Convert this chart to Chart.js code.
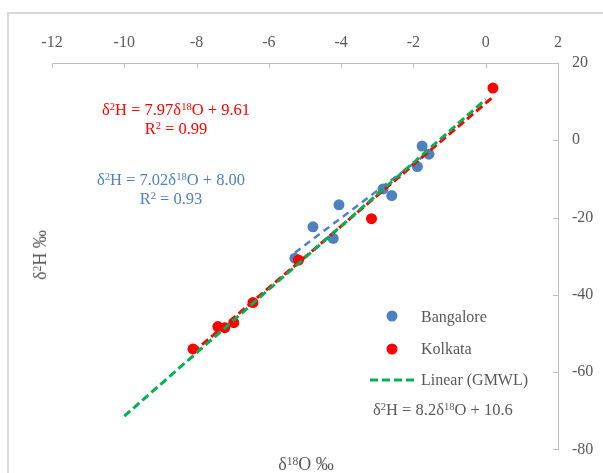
<!DOCTYPE html>
<html>
<head>
<meta charset="utf-8">
<script src="https://cdn.jsdelivr.net/npm/chart.js@4/dist/chart.umd.min.js"></script>
<style>
  html, body { margin: 0; padding: 0; background: #fff; }
  #wrap { position: relative; width: 603px; height: 473px; overflow: hidden; background: #fff; }
  #frame { position: absolute; left: 7px; top: 12px; width: 700px; height: 600px; border: 2px solid #d9d9d9; box-sizing: border-box; }
  canvas { position: absolute; left: 0; top: 0; }
  .t { position: absolute; font-family: "Liberation Serif", "Times New Roman", serif; font-size: 16px; line-height: 1; white-space: nowrap; color: #595959; }
  .eq { font-size: 16.5px; }
  .ti { font-size: 18px; }
  .c { transform: translate(-50%, -50%); }
  .l { transform: translateY(-50%); }
  .s { font-size: 0.64em; position: relative; top: -0.45em; }
  .red { color: #ff0000; }
  .blue { color: #4f81bd; }
</style>
</head>
<body>
<div id="wrap">
  <div id="frame"></div>
  <canvas id="c" width="603" height="473"></canvas>
  <div class="t eq c red" style="left:176px; top:110px;">δ<span class="s">2</span>H = 7.97δ<span class="s">18</span>O + 9.61</div>
  <div class="t eq c red" style="left:176px; top:129px;">R<span class="s">2</span> = 0.99</div>
  <div class="t eq c blue" style="left:171px; top:180px;">δ<span class="s">2</span>H = 7.02δ<span class="s">18</span>O + 8.00</div>
  <div class="t eq c blue" style="left:171px; top:199px;">R<span class="s">2</span> = 0.93</div>
  <div class="t l" style="left:421px; top:317px;">Bangalore</div>
  <div class="t l" style="left:421px; top:349px;">Kolkata</div>
  <div class="t l" style="left:421px; top:380px;">Linear (GMWL)</div>
  <div class="t eq l" style="left:373px; top:410px;">δ<span class="s">2</span>H = 8.2δ<span class="s">18</span>O + 10.6</div>
  <div class="t ti c" style="left:306px; top:464px;">δ<span class="s">18</span>O ‰</div>
  <div class="t ti c" style="left:40px; top:255px; transform: translate(-50%, -50%) rotate(-90deg);">δ<span class="s">2</span>H ‰</div>
</div>
<script>
// ---- data ----
const bangaloreX = [-1.76, -1.57, -1.89, -2.84, -2.60, -4.06, -4.78, -4.22, -5.28];
const bangaloreY = [-1.5, -3.6, -6.8, -12.6, -14.3, -16.7, -22.4, -25.4, -30.5];
const kolkataX = [0.20, -3.16, -5.18, -6.44, -6.97, -7.22, -7.41, -8.10];
const kolkataY = [13.5, -20.3, -31.0, -42.0, -47.2, -48.5, -48.2, -54.0];
// trendline end points as seen in the picture
const bangaloreFitX = [-5.28, -1.57];
const bangaloreFitY = [-29.1, -3.0];
const kolkataFitX = [-8.10, 0.20];
const kolkataFitY = [-54.9, 11.2];
const gmwlX = [-10, 0];
const gmwlY = [-71.4, 10.6];
// axis ticks
const xTicks = [-12, -10, -8, -6, -4, -2, 0, 2];
const yTicks = [20, 0, -20, -40, -60, -80];

const pts = (xs, ys) => xs.map((x, i) => ({ x: x, y: ys[i] }));

const BLUE = '#4f81bd', RED = '#ff0000', GREEN = '#00b050', AXIS = '#bfbfbf', TXT = '#595959';
const FONT = { family: '"Liberation Serif", "Times New Roman", serif', size: 16 };

const innerTicks = {
  id: 'innerTicks',
  afterDraw(chart) {
    const { ctx, chartArea: a, scales } = chart;
    ctx.save();
    ctx.strokeStyle = AXIS;
    ctx.lineWidth = 1;
    ctx.beginPath();
    xTicks.forEach(v => {
      const px = Math.round(scales.x.getPixelForValue(v)) + 0.5;
      ctx.moveTo(px, a.top); ctx.lineTo(px, a.top + 5);
    });
    yTicks.forEach(v => {
      const py = Math.round(scales.y.getPixelForValue(v)) + 0.5;
      ctx.moveTo(a.right, py); ctx.lineTo(a.right - 5, py);
    });
    ctx.stroke();
    // legend markers
    const ds = chart.data.datasets;
    const drawDot = (d, cx, cy) => {
      ctx.beginPath(); ctx.arc(cx, cy, d.pointRadius, 0, Math.PI * 2);
      ctx.fillStyle = d.backgroundColor; ctx.fill();
    };
    drawDot(ds[3], 392, 316);
    drawDot(ds[4], 392, 349);
    ctx.beginPath();
    ctx.setLineDash(ds[0].borderDash);
    ctx.strokeStyle = ds[0].borderColor; ctx.lineWidth = ds[0].borderWidth;
    ctx.moveTo(370, 380); ctx.lineTo(414, 380); ctx.stroke();
    ctx.restore();
  }
};

new Chart(document.getElementById('c'), {
  type: 'scatter',
  data: {
    datasets: [
      { label: 'Linear (GMWL)', data: pts(gmwlX, gmwlY), showLine: true, borderColor: GREEN, borderWidth: 3, borderDash: [8, 4], pointRadius: 0, fill: false, order: 0 },
      { label: 'Kolkata fit', data: pts(kolkataFitX, kolkataFitY), showLine: true, borderColor: RED, borderWidth: 3, borderDash: [8, 4], pointRadius: 0, fill: false, order: 1 },
      { label: 'Bangalore fit', data: pts(bangaloreFitX, bangaloreFitY), showLine: true, borderColor: BLUE, borderWidth: 2.5, borderDash: [7, 5], pointRadius: 0, fill: false, order: 2 },
      { label: 'Bangalore', data: pts(bangaloreX, bangaloreY), backgroundColor: BLUE, borderColor: BLUE, borderWidth: 0, pointRadius: 5.5, order: 4 },
      { label: 'Kolkata', data: pts(kolkataX, kolkataY), backgroundColor: RED, borderColor: RED, borderWidth: 0, pointRadius: 5.5, order: 3 }
    ]
  },
  options: {
    responsive: false,
    devicePixelRatio: 1,
    animation: false,
    layout: { padding: { left: 52, right: 0, top: 0, bottom: 20 } },
    plugins: { legend: { display: false }, tooltip: { enabled: false } },
    scales: {
      x: {
        type: 'linear', position: 'top', min: -12, max: 2,
        afterBuildTicks: s => { s.ticks = xTicks.map(v => ({ value: v })); },
        afterFit: s => { s.height = 63; },
        grid: { display: false, drawTicks: false },
        border: { display: true, color: AXIS, width: 1 },
        ticks: { color: TXT, font: FONT, padding: 11, maxRotation: 0, autoSkip: false }
      },
      y: {
        type: 'linear', position: 'right', min: -80, max: 20,
        afterBuildTicks: s => { s.ticks = yTicks.map(v => ({ value: v })); },
        afterFit: s => { s.width = 45; },
        grid: { display: false, drawTicks: false },
        border: { display: true, color: AXIS, width: 1 },
        ticks: { color: TXT, font: FONT, padding: 14, autoSkip: false }
      }
    }
  },
  plugins: [innerTicks]
});
</script>
</body>
</html>
